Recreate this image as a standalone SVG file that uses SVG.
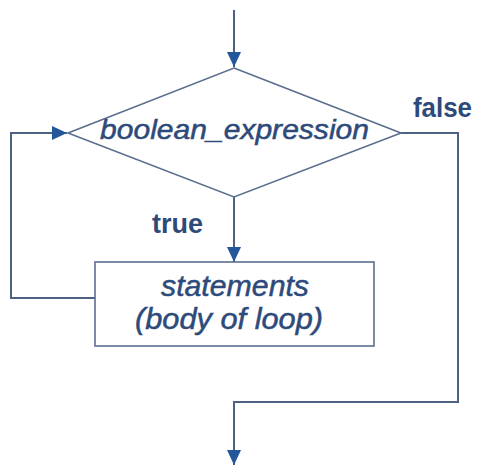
<svg xmlns="http://www.w3.org/2000/svg" width="482" height="466" viewBox="0 0 482 466">
  <style>
    .edge { fill: none; stroke: #4d6283; stroke-width: 2; }
    .shape { fill: none; stroke: #5a6e8e; stroke-width: 1.6; }
    .lbl { font-family: "Liberation Sans", Arial, sans-serif; fill: #2d4a7a; }
    .it { font-style: italic; stroke: #2d4a7a; stroke-width: 0.5; }
    .bd { font-weight: bold; }
  </style>
  <defs>
    <marker id="arrow" viewBox="0 0 15 14" refX="15" refY="7" markerWidth="15" markerHeight="14" markerUnits="userSpaceOnUse" orient="auto">
      <path d="M0,0 L15,7 L0,14 Z" fill="#24579a"/>
    </marker>
  </defs>
  <rect width="482" height="466" fill="#ffffff"/>

  <g id="connectors">
    <!-- entry into the condition -->
    <path class="edge" d="M234,10 L234,67" marker-end="url(#arrow)"/>
    <!-- true branch into the loop body -->
    <path class="edge" d="M234,197 L234,262" marker-end="url(#arrow)"/>
    <!-- loop back to the condition -->
    <path class="edge" d="M95,298 L11,298 L11,133 L67,133" marker-end="url(#arrow)"/>
    <!-- false branch to the exit -->
    <path class="edge" d="M401,133 L458,133 L458,402 L234,402 L234,465" marker-end="url(#arrow)"/>
  </g>

  <g id="condition">
    <polygon class="shape" points="234,68 401,133 234,197 68,133"/>
    <text class="lbl it" x="234.5" y="139" font-size="28" text-anchor="middle" textLength="269" lengthAdjust="spacingAndGlyphs">boolean_expression</text>
  </g>

  <g id="body">
    <rect class="shape" x="95" y="262" width="279" height="84"/>
    <text class="lbl it" x="235" y="296" font-size="29" text-anchor="middle" textLength="148" lengthAdjust="spacingAndGlyphs">statements</text>
    <text class="lbl it" x="229" y="329" font-size="29" text-anchor="middle" textLength="188" lengthAdjust="spacingAndGlyphs">(body of loop)</text>
  </g>

  <g id="labels">
    <text class="lbl bd" x="152" y="233" font-size="27" textLength="51" lengthAdjust="spacingAndGlyphs">true</text>
    <text class="lbl bd" x="413" y="117" font-size="27" textLength="59" lengthAdjust="spacingAndGlyphs">false</text>
  </g>
</svg>
